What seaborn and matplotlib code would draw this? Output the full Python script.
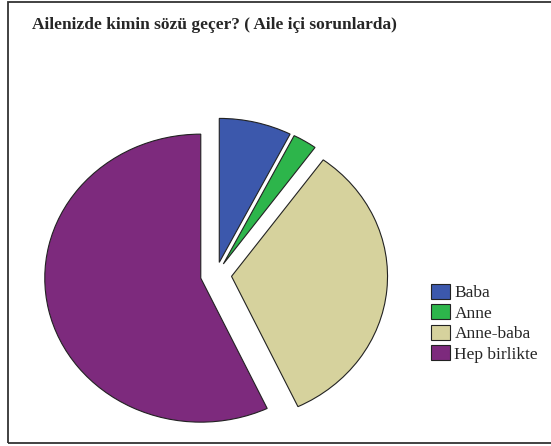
import matplotlib
matplotlib.use('Agg')
import matplotlib.pyplot as plt
from matplotlib.patches import Rectangle
import seaborn as sns

# data (percent)
labels = ['Baba', 'Anne', 'Anne-baba', 'Hep birlikte']
values = [7.5, 2.5, 33.0, 57.0]
colors = ['#3C58AC', '#2DB54B', '#D6D29D', '#7D2A7D']
title = 'Ailenizde kimin sözü geçer? ( Aile içi sorunlarda)'

sns.set_style('white')
plt.rcParams['font.family'] = ['Liberation Serif', 'DejaVu Serif']

W, H = 551, 446
fig = plt.figure(figsize=(W / 100, H / 100), dpi=100)

# pie centre / radii in pixels (the original is slightly elliptical)
cx, cy = 216, 275
rx, ry = 156, 144
lim = 1.2
ax = fig.add_axes([(cx - lim * rx) / W, (H - cy - lim * ry) / H,
                   2 * lim * rx / W, 2 * lim * ry / H])

wedges, _ = ax.pie(values, colors=colors, startangle=90, counterclock=False,
                   explode=[0.09, 0.09, 0.1, 0.1],
                   wedgeprops=dict(edgecolor='#222222', linewidth=0.8))
ax.set_aspect('auto')
ax.set_xlim(-lim, lim)
ax.set_ylim(-lim, lim)
ax.axis('off')

fig.text(32 / W, 1 - 29 / H, title, fontsize=12.5, fontweight='bold',
         ha='left', va='baseline')

leg = fig.legend(wedges, labels, loc='upper left',
                 bbox_to_anchor=(431 / W, 1 - 284 / H), frameon=False,
                 fontsize=12.5, handlelength=1.1, handleheight=0.95,
                 handletextpad=0.25, labelspacing=0.17, borderaxespad=0,
                 borderpad=0)

# outer frame
fig.patches.append(Rectangle((8 / W, 3 / H), 1.0, 1 - 5 / H,
                             transform=fig.transFigure, fill=False,
                             edgecolor='#333333', linewidth=1.3))

plt.savefig('out.png', dpi=100)
plt.close()
